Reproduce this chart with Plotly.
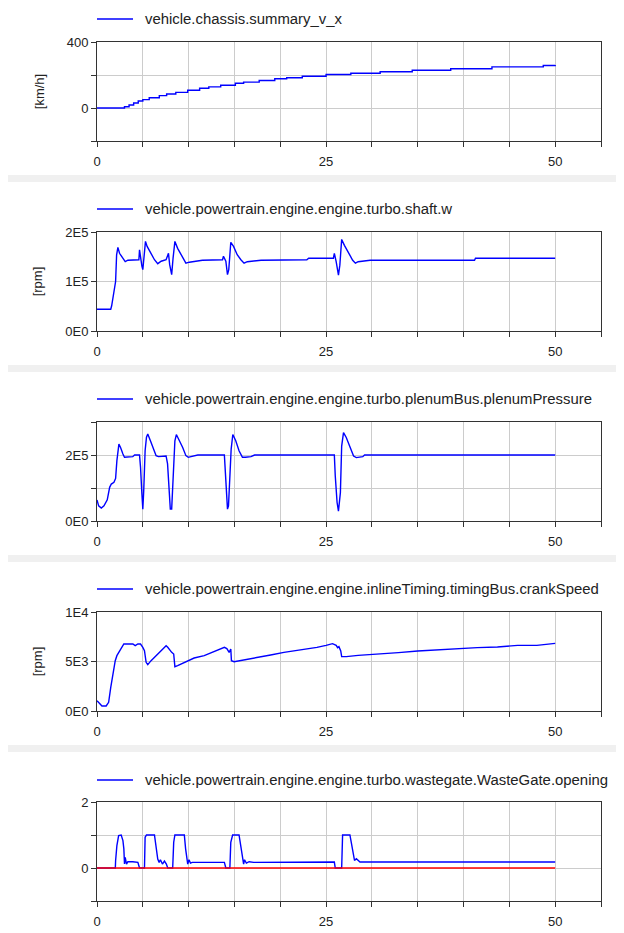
import plotly.graph_objects as go

# page body adds an 8px margin; the figure fills the rest of the 624x933 window
OFF = 8
W, H = 624 - OFF, 933 - OFF

# ---------------- data ----------------
speed_t = [0, 2.5, 3.0, 3.5, 4.0, 4.5, 5.0, 5.7, 6.8, 7.6, 8.6, 9.9, 11.2, 12.2, 13.5, 15.1, 16.0,
           17.7, 19.4, 20.7, 22.4, 25.0, 27.7, 30.9, 34.4, 38.6, 43.1, 48.7, 50]
speed_v = [0, 0, 8, 18, 30, 42, 51, 62, 75, 85, 95, 108, 120, 128, 138, 150, 157,
           167, 177, 183, 192, 203, 211, 220, 229, 238, 249, 258, 260]

shaft_t = [0, 1.5, 1.6, 1.85, 2.03, 2.14, 2.28, 2.46, 2.7, 2.93, 3.08, 3.37, 4.57, 4.64, 4.75, 4.9, 5.0,
           5.1, 5.29, 5.47, 5.9, 6.27, 6.63, 7.0, 7.54, 7.8, 7.93, 8.15, 8.3, 8.5, 8.8, 9.35, 9.7,
           10.07, 10.6, 11.5, 13.7, 13.8, 14.06, 14.24, 14.38, 14.6, 14.9, 15.3, 15.7, 16.05, 16.4,
           16.8, 17.9, 22.9, 23.1, 25.8, 25.9, 26.1, 26.35, 26.5, 26.7, 27.0, 27.4, 27.9, 28.2, 28.5,
           29.8, 41.2, 41.3, 50]
shaft_w = [44000, 44000, 51000, 77000, 100000, 154000, 169000, 157000, 150000, 142000, 140000, 143000,
           144000, 164000, 144000, 131000, 124000, 140000, 181000, 171000, 155000, 144000, 136000,
           141000, 144000, 157000, 134000, 114000, 147000, 181000, 167000, 147000, 137000, 139000,
           141000, 143000, 144000, 151000, 141000, 114000, 124000, 179000, 171000, 154000, 144000,
           137000, 140000, 141000, 143000, 144000, 147000, 147000, 157000, 140000, 113000, 133000,
           185000, 173000, 160000, 143000, 137000, 140000, 143000, 143000, 147000, 147000]

plen_t = [0, 0.18, 0.47, 0.76, 1.12, 1.38, 1.56, 1.85, 2.03, 2.17, 2.39, 2.57, 2.83, 3.0, 3.9, 4.1,
          4.64, 4.75, 4.9, 5.0, 5.1, 5.25, 5.4, 5.54, 5.83, 6.2, 6.45, 6.7, 7.54, 7.7, 7.9, 8.0, 8.15,
          8.26, 8.37, 8.5, 8.66, 9.0, 9.35, 9.7, 9.96, 10.25, 11.0, 13.9, 13.95, 14.1, 14.24, 14.35,
          14.5, 14.64, 14.82, 15.14, 15.5, 15.87, 16.2, 16.8, 17.2, 25.9, 26.0, 26.2, 26.35, 26.56,
          26.7, 26.9, 27.2, 27.6, 28.0, 28.3, 29.0, 29.2, 50]
plen_p = [64000, 46000, 39000, 46000, 64000, 102000, 112000, 117000, 129000, 183000, 233000, 223000,
          203000, 193000, 195000, 200000, 200000, 163000, 82000, 36000, 92000, 213000, 254000, 264000,
          243000, 213000, 198000, 195000, 197000, 173000, 82000, 36000, 36000, 112000, 193000, 243000,
          262000, 243000, 223000, 198000, 193000, 195000, 200000, 200000, 173000, 77000, 36000, 46000,
          132000, 218000, 262000, 243000, 213000, 193000, 193000, 195000, 200000, 200000, 137000,
          56000, 30000, 86000, 227000, 268000, 253000, 227000, 197000, 192000, 195000, 200000, 200000]

crank_t = [0, 0.29, 0.54, 1.0, 1.27, 1.5, 1.74, 1.99, 2.17, 2.39, 2.64, 2.93, 3.91, 4.17, 4.46, 4.75,
           5.0, 5.18, 5.36, 5.54, 5.9, 6.45, 7.0, 7.54, 7.72, 7.9, 8.15, 8.37, 8.5, 8.8, 9.53, 10.6,
           11.7, 12.8, 13.9, 14.17, 14.42, 14.6, 14.67, 14.96, 16.05, 17.5, 18.95, 20.4, 22.2, 24.0,
           25.0, 25.7, 26.1, 26.26, 26.4, 26.6, 26.7, 27.2, 28.5, 30.7, 32.9, 35.0, 37.2, 39.4, 41.5,
           43.7, 45.9, 48.0, 49.8, 50]
crank_n = [1040, 710, 505, 505, 875, 2390, 3906, 5084, 5590, 5926, 6431, 6768, 6768, 6600, 6768, 6768,
           6431, 6094, 4916, 4680, 5084, 5590, 6162, 6600, 6431, 6200, 5926, 5758, 4478, 4580, 4916,
           5354, 5590, 5993, 6431, 6300, 5926, 6263, 5084, 4983, 5151, 5421, 5656, 5926, 6162, 6431,
           6633, 6801, 6633, 6397, 6500, 6060, 5488, 5488, 5623, 5724, 5892, 6060, 6195, 6296, 6397,
           6465, 6633, 6633, 6768, 6835]

wg_t = [0, 2.0, 2.03, 2.17, 2.36, 2.64, 2.83, 2.93, 3.0, 3.08, 3.22, 3.37, 3.9, 4.46, 4.64, 5.18,
        5.25, 5.4, 6.27, 6.45, 6.63, 6.78, 6.92, 7.14, 7.36, 7.57, 7.72, 8.26, 8.37, 8.5, 9.53, 9.67,
        9.9, 10.04, 10.2, 10.4, 13.9, 14.06, 14.5, 14.6, 14.8, 15.5, 15.7, 16.0, 16.1, 16.3, 16.6,
        17.1, 25.9, 26.0, 26.7, 26.8, 27.6, 27.9, 28.1, 28.3, 28.7, 29.0, 50]
wg_open = [0, 0, 0.22, 0.68, 0.98, 1.0, 0.83, 0.58, 0.12, 0.32, 0.12, 0.19, 0.19, 0.17, 0.0, 0.0,
           0.93, 1.0, 1.0, 0.68, 0.27, 0.17, 0.25, 0.12, 0.21, 0.12, 0.0, 0.0, 0.78, 1.0, 1.0, 0.58,
           0.12, 0.25, 0.15, 0.17, 0.17, 0.0, 0.0, 0.78, 1.0, 1.0, 0.68, 0.12, 0.25, 0.15, 0.19,
           0.17, 0.18, 0.0, 0.0, 1.0, 1.0, 0.54, 0.23, 0.28, 0.18, 0.18, 0.18]

ref_t = [0, 50]
ref_v = [0, 0]

names = ["vehicle.chassis.summary_v_x",
         "vehicle.powertrain.engine.engine.turbo.shaft.w",
         "vehicle.powertrain.engine.engine.turbo.plenumBus.plenumPressure",
         "vehicle.powertrain.engine.engine.inlineTiming.timingBus.crankSpeed",
         "vehicle.powertrain.engine.engine.turbo.wastegate.WasteGate.opening"]
y_units = ["[km/h]", "[rpm]", "", "[rpm]", ""]
y_ranges = [[-200, 400], [0, 2e5], [0, 3e5], [0, 1e4], [-1, 2]]
y_tickvals = [[-200, 0, 200, 400], [0, 1e5, 2e5], [0, 1e5, 2e5, 3e5], [0, 5e3, 1e4], [-1, 0, 1, 2]]
y_ticktext = [["", "0", "", "400"], ["0E0", "1E5", "2E5"], ["0E0", "", "2E5", ""],
              ["0E0", "5E3", "1E4"], ["", "0", "", "2"]]
x_tickvals = [0, 5, 10, 15, 20, 25, 30, 35, 40, 45, 50, 55]
x_ticktext = ["0", "", "", "", "", "25", "", "", "", "", "50", ""]

series = [(speed_t, speed_v, "hv"), (shaft_t, shaft_w, "linear"), (plen_t, plen_p, "linear"),
          (crank_t, crank_n, "linear"), (wg_t, wg_open, "linear")]

# ---------------- figure ----------------
fig = go.Figure()
font = "Liberation Sans, Arial, sans-serif"
BLUE = "#0000ff"
AX = "#333333"
GRID = "#cccccc"
TXT = "#222222"

def px(x):  # window pixel -> paper fraction
    return (x - OFF) / W

def py(y):
    return 1 - (y - OFF) / H

x0p, x1p = 97, 601
for i in range(5):
    n = i + 1
    top = 42 + 190 * i
    bot = 141 + 190 * i
    xa = "x" if n == 1 else f"x{n}"
    ya = "y" if n == 1 else f"y{n}"
    t, v, shape = series[i]
    fig.add_trace(go.Scatter(x=t, y=v, mode="lines", name=names[i], xaxis=xa, yaxis=ya,
                             line=dict(color=BLUE, width=1.4, shape=shape), showlegend=False))
    if n == 5:
        fig.add_trace(go.Scatter(x=ref_t, y=ref_v, mode="lines", name="", xaxis=xa, yaxis=ya,
                                 line=dict(color="#ff0000", width=1.4), showlegend=False))
    common = dict(showline=True, linecolor=AX, linewidth=1, mirror=True, ticks="outside",
                  ticklen=5, tickcolor=AX, showgrid=True, gridcolor=GRID, gridwidth=1,
                  zeroline=False, tickfont=dict(family=font, size=13, color=TXT),
                  fixedrange=True, automargin=False)
    fig.layout[("xaxis" if n == 1 else f"xaxis{n}")] = dict(
        common, domain=[px(x0p), px(x1p)], anchor=ya, range=[0, 55], tickmode="array",
        tickvals=x_tickvals, ticktext=x_ticktext, ticklabelstandoff=3)
    fig.layout[("yaxis" if n == 1 else f"yaxis{n}")] = dict(
        common, domain=[py(bot), py(top)], anchor=xa, range=y_ranges[i],
        tickmode="array", tickvals=y_tickvals[i], ticktext=y_ticktext[i],
        title=dict(text=y_units[i], font=dict(family=font, size=13, color=TXT), standoff=19))
    # legend entry (line sample + label)
    ly = 19 + 190 * i if i < 4 else 780
    fig.add_shape(type="line", xref="paper", yref="paper", x0=px(97), x1=px(133),
                  y0=py(ly), y1=py(ly), line=dict(color=BLUE, width=1.4))
    fig.add_annotation(text=names[i], xref="paper", yref="paper", x=px(143), y=py(ly),
                       xanchor="left", yanchor="middle", showarrow=False,
                       font=dict(family=font, size=14.9, color=TXT))
    # separator band
    if i > 0:
        b0 = 175 + 190 * (i - 1)
        fig.add_shape(type="rect", xref="paper", yref="paper", x0=px(4), x1=1,
                      y0=py(b0 + 7), y1=py(b0), fillcolor="#f0f0f0",
                      line=dict(width=0), layer="below")

fig.update_layout(width=W, height=H, margin=dict(l=0, r=0, t=0, b=0, pad=0),
                  paper_bgcolor="white", plot_bgcolor="white", showlegend=False)

fig.write_html("out.html")
